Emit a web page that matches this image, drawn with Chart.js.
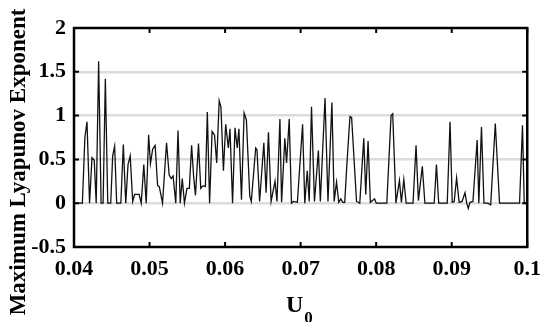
<!DOCTYPE html>
<html>
<head>
<meta charset="utf-8">
<script src="https://cdn.jsdelivr.net/npm/chart.js@4/dist/chart.umd.min.js"></script>
<style>
  html, body { margin: 0; padding: 0; background: #fff; }
  #wrap { width: 550px; height: 322px; }
</style>
</head>
<body>
<div id="wrap"><canvas id="lyap"></canvas></div>
<script>
// --- Data ---
const u0 = [
  0.04, 0.04111, 0.04144, 0.04172, 0.04206, 0.04238, 0.04268, 0.04294, 0.04326, 0.04359,
  0.04385, 0.04415, 0.04447, 0.04486, 0.04512, 0.04538, 0.04565, 0.0462, 0.04653, 0.04685,
  0.04715, 0.04744, 0.04777, 0.04803, 0.04862, 0.0489, 0.04924, 0.04956, 0.04988, 0.05012,
  0.05042, 0.05074, 0.05107, 0.05129, 0.05172, 0.05225, 0.0526, 0.05286, 0.05312, 0.05347,
  0.05377, 0.05406, 0.05433, 0.05462, 0.05495, 0.05527, 0.05557, 0.05584, 0.05608, 0.05648,
  0.05678, 0.0571, 0.05739, 0.05765, 0.05795, 0.05828, 0.0586, 0.05889, 0.05922, 0.05945,
  0.05978, 0.06008, 0.06043, 0.06065, 0.06099, 0.06131, 0.06161, 0.06183, 0.06217, 0.06252,
  0.06282, 0.06327, 0.06347, 0.06405, 0.06422, 0.06457, 0.06513, 0.06543, 0.06574, 0.06609,
  0.06661, 0.06687, 0.06726, 0.06748, 0.06791, 0.06814, 0.06849, 0.06879, 0.06905, 0.06957,
  0.07026, 0.07055, 0.07088, 0.07114, 0.07144, 0.07183, 0.07235, 0.07261, 0.07323, 0.07362,
  0.07414, 0.07444, 0.07475, 0.07505, 0.07532, 0.07558, 0.07584, 0.0761, 0.07653, 0.07675,
  0.0774, 0.07783, 0.07836, 0.07862, 0.07893, 0.07923, 0.07979, 0.08001, 0.08141, 0.08197,
  0.08219, 0.08262, 0.08308, 0.08334, 0.08366, 0.08397, 0.08488, 0.08528, 0.08559, 0.08611,
  0.08645, 0.08768, 0.08798, 0.08828, 0.08941, 0.08978, 0.09007, 0.09033, 0.09065, 0.09098,
  0.09137, 0.09176, 0.09199, 0.09219, 0.09242, 0.09281, 0.09337, 0.09359, 0.09394, 0.09427,
  0.09477, 0.09516, 0.09577, 0.09633, 0.09898, 0.09937, 0.0996, 0.1
];
const lyap = [
  0, 0, 0.75, 0.93, 0, 0.52, 0.49, 0, 1.62, 0,
  0, 1.42, 0, 0, 0.54, 0.65, 0, 0, 0.67, 0,
  0.44, 0.54, 0.02, 0.1, 0.1, 0, 0.44, 0, 0.78, 0.45,
  0.62, 0.66, 0.2, 0.19, 0, 0.69, 0.32, 0.28, 0.31, 0,
  0.83, 0, 0.28, 0, 0.17, 0.17, 0.66, 0.3, 0.09, 0.68,
  0.17, 0.2, 0.19, 1.04, 0, 0.82, 0.78, 0.46, 1.17, 1.1,
  0.37, 0.9, 0.63, 0.85, 0, 0.86, 0.63, 0.85, 0.04, 1.03,
  0.95, 0.08, 0.02, 0.63, 0.61, 0.02, 0.69, 0.12, 0.81, 0.02,
  0.25, 0.02, 0.96, 0.01, 0.74, 0.46, 0.96, 0, 0.02, 0.01,
  0.9, 0, 0.37, 0.02, 1.1, 0.02, 0.6, 0.02, 1.2, 0.02,
  1.15, 0.02, 0.24, 0.01, 0.05, 0.01, 0.01, 0.41, 0.99, 0.98,
  0.02, 0, 0.74, 0.1, 0.71, 0.01, 0.05, 0, 0, 1.0,
  1.02, 0, 0.26, 0.01, 0.27, 0, 0, 0.66, 0.03, 0.42,
  0, 0, 0.44, 0, 0, 0.93, 0.01, 0.02, 0.29, 0.01,
  0.02, 0.12, 0, -0.06, 0.01, 0.02, 0.72, 0, 0.87, 0,
  0, -0.02, 0.91, 0, 0, 0.89, 0, 0
];
const xTicks = [0.04, 0.05, 0.06, 0.07, 0.08, 0.09, 0.1];
const xTickLabels = ['0.04', '0.05', '0.06', '0.07', '0.08', '0.09', '0.1'];
const yTicks = [-0.5, 0, 0.5, 1, 1.5, 2];
const yTickLabels = ['-0.5', '0', '0.5', '1', '1.5', '2'];
const xTitle = 'U';
const xTitleSub = '0';
const yTitle = 'Maximum Lyapunov Exponent';

const SERIF = '"Liberation Serif", "Times New Roman", serif';

// frame, inward ticks and axis titles
const framePlugin = {
    id: 'frame',
    afterDraw(chart) {
        const ctx = chart.ctx;
        const a = chart.chartArea;
        const xs = chart.scales.x, ys = chart.scales.y;
        ctx.save();
        ctx.strokeStyle = '#000';
        ctx.lineWidth = 2.5;
        ctx.strokeRect(a.left, a.top, a.right - a.left, a.bottom - a.top);

        ctx.lineWidth = 2;
        const tl = 5;
        xTicks.forEach(v => {
            const px = xs.getPixelForValue(v);
            ctx.beginPath();
            ctx.moveTo(px, a.bottom); ctx.lineTo(px, a.bottom - tl);
            ctx.moveTo(px, a.top); ctx.lineTo(px, a.top + tl);
            ctx.stroke();
        });
        yTicks.forEach(v => {
            const py = ys.getPixelForValue(v);
            ctx.beginPath();
            ctx.moveTo(a.left, py); ctx.lineTo(a.left + tl, py);
            ctx.moveTo(a.right, py); ctx.lineTo(a.right - tl, py);
            ctx.stroke();
        });

        // y title
        ctx.fillStyle = '#000';
        ctx.save();
        ctx.translate(19, 162);
        ctx.rotate(-Math.PI / 2);
        ctx.textAlign = 'center';
        ctx.textBaseline = 'middle';
        ctx.font = 'bold 23px ' + SERIF;
        ctx.fillText(yTitle, 0, 0);
        ctx.restore();

        // x title with subscript
        ctx.font = 'bold 24px ' + SERIF;
        const uw = ctx.measureText(xTitle).width;
        const cx = (a.left + a.right) / 2 - 6;
        ctx.textAlign = 'left';
        ctx.textBaseline = 'alphabetic';
        ctx.fillText(xTitle, cx - uw / 2, 312);
        ctx.font = 'bold 17px ' + SERIF;
        ctx.fillText(xTitleSub, cx + uw / 2 + 1, 323);
        ctx.restore();
    }
};

new Chart(document.getElementById('lyap'), {
    type: 'line',
    data: {
        datasets: [{
            data: u0.map((u, i) => ({ x: u, y: lyap[i] })),
            borderColor: '#111',
            borderWidth: 1.3,
            pointRadius: 0,
            tension: 0,
            fill: false
        }]
    },
    options: {
        responsive: true,
        maintainAspectRatio: false,
        animation: false,
        layout: { padding: { left: 0, right: 18, top: 28, bottom: 0 } },
        plugins: { legend: { display: false }, tooltip: { enabled: false } },
        scales: {
            x: {
                type: 'linear',
                min: 0.04, max: 0.1,
                afterBuildTicks: s => { s.ticks = xTicks.map(v => ({ value: v })); },
                afterFit: s => { s.height = 75; },
                border: { display: false },
                grid: { display: false, drawTicks: false },
                ticks: {
                    padding: 9,
                    color: '#000',
                    font: { family: SERIF, size: 22, weight: 'bold' },
                    maxRotation: 0,
                    callback: (v, i) => xTickLabels[i]
                }
            },
            y: {
                min: -0.5, max: 2,
                afterBuildTicks: s => { s.ticks = yTicks.map(v => ({ value: v })); },
                afterFit: s => { s.width = 74; },
                border: { display: false },
                grid: {
                    drawTicks: false,
                    color: ctx => (ctx.tick && (ctx.tick.value === -0.5 || ctx.tick.value === 2)) ? 'rgba(0,0,0,0)' : '#dcdcdc',
                    lineWidth: 2.5
                },
                ticks: {
                    padding: 8,
                    color: '#000',
                    font: { family: SERIF, size: 22, weight: 'bold' },
                    callback: (v, i) => yTickLabels[i]
                }
            }
        }
    },
    plugins: [framePlugin]
});
</script>
</body>
</html>
